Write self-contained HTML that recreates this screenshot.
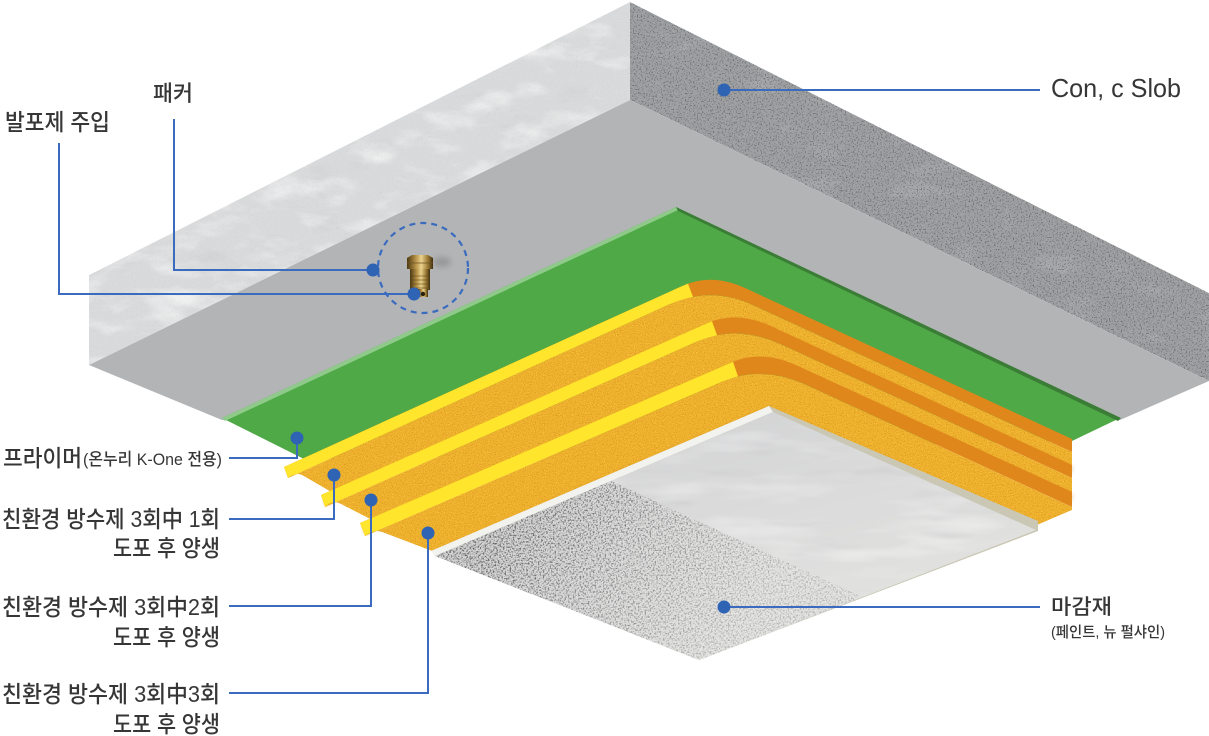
<!DOCTYPE html>
<html><head><meta charset="utf-8">
<style>
html,body{margin:0;padding:0;background:#fff;}
svg{display:block;}
text{font-family:"Liberation Sans","Noto Sans CJK KR",sans-serif;fill:#363636;font-weight:500;}
</style></head>
<body>
<svg width="1209" height="736" viewBox="0 0 1209 736" xmlns="http://www.w3.org/2000/svg">
<defs>
  <filter id="fLight" filterUnits="userSpaceOnUse" x="0" y="0" width="1209" height="736" color-interpolation-filters="sRGB">
    <feTurbulence type="fractalNoise" baseFrequency="0.02 0.045" numOctaves="4" seed="7" result="n"/>
    <feColorMatrix in="n" type="matrix" values="0 0 0 0 1  0 0 0 0 1  0 0 0 0 1  1.5 0 0 0 -0.72" result="w"/>
    <feColorMatrix in="n" type="matrix" values="0 0 0 0 0.76  0 0 0 0 0.77  0 0 0 0 0.78  0 -1.1 0 0 0.42" result="g"/>
    <feTurbulence type="fractalNoise" baseFrequency="0.8" numOctaves="1" seed="3" result="f"/>
    <feColorMatrix in="f" type="matrix" values="0 0 0 0 0.68  0 0 0 0 0.68  0 0 0 0 0.7  1.4 0 0 0 -0.85" result="fd"/>
    <feMerge result="m"><feMergeNode in="SourceGraphic"/><feMergeNode in="g"/><feMergeNode in="w"/><feMergeNode in="fd"/></feMerge>
    <feComposite in="m" in2="SourceGraphic" operator="in"/>
  </filter>
  <filter id="fDark" filterUnits="userSpaceOnUse" x="0" y="0" width="1209" height="736" color-interpolation-filters="sRGB">
    <feTurbulence type="fractalNoise" baseFrequency="0.02 0.04" numOctaves="3" seed="11" result="n"/>
    <feColorMatrix in="n" type="matrix" values="0 0 0 0 0.72  0 0 0 0 0.73  0 0 0 0 0.74  1.6 0 0 0 -0.9" result="lt"/>
    <feTurbulence type="fractalNoise" baseFrequency="0.75" numOctaves="1" seed="4" result="f"/>
    <feColorMatrix in="f" type="matrix" values="0 0 0 0 0.3  0 0 0 0 0.31  0 0 0 0 0.33  3 0 0 0 -1.55" result="dk"/>
    <feMerge result="m"><feMergeNode in="SourceGraphic"/><feMergeNode in="lt"/><feMergeNode in="dk"/></feMerge>
    <feComposite in="m" in2="SourceGraphic" operator="in"/>
  </filter>
  <filter id="fSand" filterUnits="userSpaceOnUse" x="0" y="0" width="1209" height="736" color-interpolation-filters="sRGB">
    <feTurbulence type="fractalNoise" baseFrequency="0.9" numOctaves="1" seed="5" result="n"/>
    <feColorMatrix in="n" type="matrix" values="0 0 0 0 0.78  0 0 0 0 0.5  0 0 0 0 0.05  2.5 0 0 0 -1.3" result="dk"/>
    <feColorMatrix in="n" type="matrix" values="0 0 0 0 1  0 0 0 0 0.86  0 0 0 0 0.3  0 -2.5 0 0 1.15" result="lt"/>
    <feMerge result="m"><feMergeNode in="SourceGraphic"/><feMergeNode in="dk"/><feMergeNode in="lt"/></feMerge>
    <feComposite in="m" in2="SourceGraphic" operator="in"/>
  </filter>
  <filter id="fSpeck" filterUnits="userSpaceOnUse" x="0" y="0" width="1209" height="736" color-interpolation-filters="sRGB">
    <feTurbulence type="fractalNoise" baseFrequency="0.6" numOctaves="2" seed="9" result="n"/>
    <feColorMatrix in="n" type="matrix" values="0 0 0 0 0.36  0 0 0 0 0.36  0 0 0 0 0.36  3.4 0 0 0 -1.55" result="dk"/>
    <feMerge result="m"><feMergeNode in="SourceGraphic"/><feMergeNode in="dk"/></feMerge>
    <feComposite in="m" in2="SourceGraphic" operator="in"/>
  </filter>
  <filter id="fSilver" filterUnits="userSpaceOnUse" x="0" y="0" width="1209" height="736" color-interpolation-filters="sRGB">
    <feTurbulence type="fractalNoise" baseFrequency="0.01 0.05" numOctaves="3" seed="21" result="n"/>
    <feColorMatrix in="n" type="matrix" values="0 0 0 0 1  0 0 0 0 1  0 0 0 0 1  2 0 0 0 -0.95" result="w"/>
    <feColorMatrix in="n" type="matrix" values="0 0 0 0 0.7  0 0 0 0 0.7  0 0 0 0 0.72  0 -1.5 0 0 0.6" result="g"/>
    <feMerge result="m"><feMergeNode in="SourceGraphic"/><feMergeNode in="g"/><feMergeNode in="w"/></feMerge>
    <feComposite in="m" in2="SourceGraphic" operator="in"/>
  </filter>
  <filter id="blur2" x="-20%" y="-20%" width="140%" height="140%"><feGaussianBlur stdDeviation="2"/></filter>
  <filter id="blur3" x="-50%" y="-50%" width="200%" height="200%"><feGaussianBlur stdDeviation="3"/></filter>
  <linearGradient id="silver" gradientUnits="userSpaceOnUse" x1="773" y1="412" x2="820" y2="620">
    <stop offset="0" stop-color="#cdced0"/>
    <stop offset="0.5" stop-color="#dcdcdc"/>
    <stop offset="1" stop-color="#e9e9e6"/>
  </linearGradient>
  <linearGradient id="speckFade" gradientUnits="userSpaceOnUse" x1="520" y1="515" x2="720" y2="660">
    <stop offset="0" stop-color="#ffffff" stop-opacity="0"/>
    <stop offset="1" stop-color="#f2f2ef" stop-opacity="0.55"/>
  </linearGradient>
  <linearGradient id="brass" x1="0" y1="0" x2="1" y2="0">
    <stop offset="0" stop-color="#4d3810"/>
    <stop offset="0.35" stop-color="#b8954a"/>
    <stop offset="0.55" stop-color="#ead18c"/>
    <stop offset="0.8" stop-color="#9b7a35"/>
    <stop offset="1" stop-color="#3f2e0c"/>
  </linearGradient>
</defs>

<rect width="1209" height="736" fill="#ffffff"/>

<!-- Slab -->
<polygon points="89,275 630,2 630,100 89,365" fill="#d9dadb" filter="url(#fLight)"/>
<polygon points="630,2 1209,293 1209,381 630,100" fill="#9fa1a3" filter="url(#fDark)"/>
<polygon points="89,365 630,100 1209,381 1120,420 222,420" fill="#b3b4b6"/>

<!-- Green primer -->
<polygon points="222,418 676,207 1120,418 1072,441 304,459" fill="#4fa946"/>
<polygon points="222,418 676,207 678,210 225,421" fill="#8fca8b"/>
<polygon points="676,207 1121,418 1118,421 678,211" fill="#3b7d37"/>

<!-- Layer 1 -->
<path d="M284,467 L680,287 Q710,272 745,288 L1072,439 L1072,452 L755,306 Q712,285.5 670,304 L288,478 Z" fill="#e0871b"/>
<polygon points="284,467 680,287 688,283.6 693,297 670,304 288,478" fill="#ffe52b"/>
<path d="M288,478 L670,304 Q712,285.5 755,306 L1072,452 L1072,468 L771,329 Q736,313 706,327 L333,493 L302,475 Q294,472 288,478 Z" fill="#efb12e" filter="url(#fSand)"/>
<path d="M325,503 L706,330 Q736,316 771,332 L1072,470" fill="none" stroke="#a86400" stroke-opacity="0.35" stroke-width="5" filter="url(#blur2)"/>

<!-- Layer 2 -->
<path d="M321,495 L706,323.7 Q736,310 771,326.1 L1072,465 L1072,478 L782,344.7 Q737,324 697,341.5 L325,507 Z" fill="#e0871b"/>
<polygon points="321,495 706,323.7 712,321.3 717,335.3 697,341.5 325,507" fill="#ffe52b"/>
<path d="M325,507 L697,341.5 Q737,324 782,344.7 L1072,478 L1072,495 L797,368.5 Q762,352.4 732,365 L372,520 L339,503 Q331,500 325,507 Z" fill="#efb12e" filter="url(#fSand)"/>
<path d="M364,531 L732,369 Q762,356 797,372 L1072,498" fill="none" stroke="#a86400" stroke-opacity="0.35" stroke-width="5" filter="url(#blur2)"/>

<!-- Layer 3 -->
<path d="M360,523 L732,362.3 Q762,349.4 797,365.5 L1072,492 L1072,507 L807,385.2 Q762,364.5 722,381.8 L365,536 Z" fill="#e0871b"/>
<polygon points="360,523 732,362.3 733,361.9 738,376.4 722,381.8 365,536" fill="#ffe52b"/>
<path d="M365,536 L722,381.8 Q762,364.5 807,385.2 L1072,507 L1072,510 L1037,525 L769,420 L432,551 L382,532 Q373,529 365,536 Z" fill="#efb12e" filter="url(#fSand)"/>
<path d="M440,552 L769,411 L1034,525" fill="none" stroke="#a86400" stroke-opacity="0.3" stroke-width="5" filter="url(#blur2)"/>

<!-- Board (마감재) -->
<polygon points="769,406 1038,521 1038,531 699,660 431,551" fill="#cac8b4"/>
<polygon points="431,551 769,406 773,412 435,556" fill="#f2f2ee"/>
<polygon points="435,556 773,412 1036,530 699,660" fill="url(#silver)"/>
<polygon points="435,556 773,412 1036,530 699,660" fill="#dcdcdc" opacity="0.5" filter="url(#fSilver)"/>
<polygon points="435,556 611,481 862,597 699,660" fill="#d4d4d4" filter="url(#fSpeck)"/>
<polygon points="435,556 611,481 862,597 699,660" fill="url(#speckFade)"/>

<!-- Packer -->
<ellipse cx="442" cy="262" rx="9" ry="5" fill="#7f8082" opacity="0.55" filter="url(#blur3)"/>
<rect x="410" y="267" width="20" height="23" fill="url(#brass)"/>
<g stroke="#5a4415" stroke-width="0.8" opacity="0.7">
  <line x1="410" y1="276" x2="430" y2="276"/>
  <line x1="410" y1="280" x2="430" y2="280"/>
  <line x1="410" y1="284" x2="430" y2="284"/>
  <line x1="410" y1="288" x2="430" y2="288"/>
</g>
<path d="M407,258 L412,255 L428,255 L433,258 L433,269 L407,269 Z" fill="url(#brass)"/>
<line x1="407" y1="263" x2="433" y2="263" stroke="#6b5220" stroke-width="0.8"/>
<rect x="418" y="289" width="10" height="8" fill="url(#brass)"/>
<circle cx="423" cy="294" r="2.2" fill="#2a2008"/>

<!-- Dashed circle -->
<circle cx="423" cy="268" r="45" fill="none" stroke="#3a6bbf" stroke-width="2.2" stroke-dasharray="6 5"/>

<!-- Connectors -->
<g fill="none" stroke="#3a6bbf" stroke-width="2">
  <polyline points="174,119 174,270 373,270"/>
  <polyline points="59,143 59,294 414,294"/>
  <line x1="724" y1="90" x2="1040" y2="90"/>
  <line x1="724" y1="607" x2="1040" y2="607"/>
  <polyline points="229,458 297,458 297,438"/>
  <polyline points="229,519 334,519 334,475"/>
  <polyline points="229,606 371,606 371,500"/>
  <polyline points="229,693 428,693 428,533"/>
</g>
<g fill="#2f63b3">
  <circle cx="373" cy="270" r="6.5"/>
  <circle cx="414" cy="294" r="6.5"/>
  <circle cx="724" cy="90" r="6.5"/>
  <circle cx="724" cy="607" r="6.5"/>
  <circle cx="297" cy="438" r="6.5"/>
  <circle cx="334" cy="475" r="6.5"/>
  <circle cx="371" cy="500" r="6.5"/>
  <circle cx="428" cy="533" r="6.5"/>
</g>

<!-- Labels -->
<text x="153" y="101" font-size="22" textLength="40" lengthAdjust="spacingAndGlyphs">패커</text>
<text x="5" y="130" font-size="23" textLength="105" lengthAdjust="spacingAndGlyphs">발포제 주입</text>
<text x="1051" y="97" font-size="26" textLength="130" lengthAdjust="spacingAndGlyphs">Con, c Slob</text>
<text x="1051" y="614" font-size="21" textLength="61" lengthAdjust="spacingAndGlyphs">마감재</text>
<text x="1051" y="637" font-size="15" textLength="114" lengthAdjust="spacingAndGlyphs">(페인트, 뉴 펄샤인)</text>

<text x="3" y="466" font-size="23" textLength="79" lengthAdjust="spacingAndGlyphs">프라이머</text>
<text x="83" y="465" font-size="17" textLength="139" lengthAdjust="spacingAndGlyphs">(온누리 K-One 전용)</text>

<text x="2" y="527" font-size="23" textLength="218" lengthAdjust="spacingAndGlyphs">친환경 방수제 3회中 1회</text>
<text x="113" y="556" font-size="23" textLength="107" lengthAdjust="spacingAndGlyphs">도포 후 양생</text>
<text x="2" y="615" font-size="23" textLength="218" lengthAdjust="spacingAndGlyphs">친환경 방수제 3회中2회</text>
<text x="113" y="645" font-size="23" textLength="107" lengthAdjust="spacingAndGlyphs">도포 후 양생</text>
<text x="2" y="702" font-size="23" textLength="218" lengthAdjust="spacingAndGlyphs">친환경 방수제 3회中3회</text>
<text x="113" y="732" font-size="23" textLength="107" lengthAdjust="spacingAndGlyphs">도포 후 양생</text>
</svg>
</body></html>
